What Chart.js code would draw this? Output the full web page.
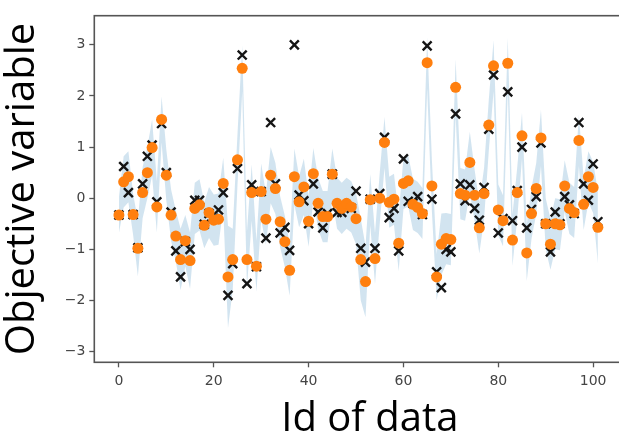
<!DOCTYPE html>
<html><head><meta charset="utf-8">
<script src="https://cdn.jsdelivr.net/npm/chart.js@4.4.1/dist/chart.umd.min.js"></script>
<style>
html,body{margin:0;padding:0;background:#fff;overflow:hidden}
#wrap{width:619px;height:440px;overflow:hidden;position:relative;background:#fff}
canvas{display:block}
</style></head>
<body><div id="wrap"><canvas id="c" width="654" height="440"></canvas></div>
<script>
// ---- data ----
const ids = [0,1,2,3,4,5,6,7,8,9,10,11,12,13,14,15,16,17,18,19,20,21,22,23,24,25,26,27,28,29,30,31,32,33,34,35,36,37,38,39,40,41,42,43,44,45,46,47,48,49,50,51,52,53,54,55,56,57,58,59,60,61,62,63,64,65,66,67,68,69,70,71,72,73,74,75,76,77,78,79,80,81,82,83,84,85,86,87,88,89,90,91,92,93,94,95,96,97,98,99,100,101];

const predicted = [-0.33,0.32,0.42,-0.32,-0.98,0.11,0.50,0.99,-0.17,1.54,
  0.45,-0.33,-0.74,-1.20,-0.83,-1.22,-0.20,-0.13,-0.53,-0.28,
  -0.43,-0.41,0.29,-1.54,-1.20,0.75,2.54,-1.20,0.11,-1.33,
  0.13,-0.41,0.45,0.19,-0.46,-0.85,-1.41,0.42,-0.07,0.22,
  -0.45,0.48,-0.10,-0.36,-0.36,0.47,-0.10,-0.20,-0.10,-0.17,
  -0.40,-1.20,-1.63,-0.03,-1.18,0.00,1.09,-0.08,-0.02,-0.88,
  0.29,0.34,-0.12,-0.18,-0.30,2.65,0.24,-1.54,-0.90,-0.79,
  -0.81,2.17,0.09,0.06,0.70,0.06,-0.58,0.09,1.43,2.59,
  -0.23,-0.44,2.64,-0.82,0.11,1.22,-1.07,-0.30,0.19,1.18,
  -0.50,-0.90,-0.50,-0.52,0.24,-0.20,-0.28,1.13,-0.12,0.42,
  0.21,-0.57];

const actual = [-0.33,0.62,0.11,-0.32,-0.97,0.28,0.82,1.04,-0.07,1.46,
  0.50,-0.27,-1.03,-1.54,-0.85,-1.00,-0.04,-0.04,-0.51,-0.30,
  -0.40,-0.23,0.11,-1.90,-1.28,0.58,2.80,-1.67,0.26,-1.34,
  0.13,-0.78,1.48,0.28,-0.68,-0.57,-1.02,3.00,0.06,-0.05,
  -0.50,0.28,-0.27,-0.58,-0.30,0.47,-0.28,-0.28,-0.15,-0.20,
  0.14,-0.98,-1.25,-0.02,-0.98,0.09,1.19,-0.38,-0.20,-1.03,
  0.77,-0.06,-0.10,0.03,-0.32,2.98,-0.02,-1.44,-1.75,-1.00,
  -1.05,1.65,0.28,-0.05,0.26,-0.20,-0.43,0.21,1.35,2.41,
  -0.68,-0.40,2.08,-0.44,0.15,1.00,-0.58,-0.22,0.03,1.08,
  -0.50,-1.05,-0.27,-0.50,0.03,-0.13,-0.30,1.48,0.28,-0.04,
  0.67,-0.46];

const bandHalfWidth = [0.35,0.50,0.50,0.40,0.55,0.50,0.50,0.55,0.50,0.45,
  0.50,0.50,0.50,0.60,0.50,0.55,0.50,0.50,0.45,0.50,
  0.50,0.50,0.50,1.00,0.60,0.50,0.45,0.55,0.55,0.50,
  0.55,0.50,0.55,0.50,0.50,0.50,0.50,0.55,0.50,0.55,
  0.50,0.50,0.50,0.50,0.50,0.50,0.50,0.50,0.50,0.50,
  0.50,0.80,0.70,0.50,0.50,0.50,0.50,0.50,0.50,0.55,
  0.50,0.50,0.50,0.50,0.50,0.50,0.50,0.45,0.60,0.50,
  0.50,0.55,0.50,0.50,0.60,0.50,0.50,0.50,0.50,0.50,
  0.50,0.50,0.50,0.50,0.50,0.45,0.55,0.50,0.50,0.55,
  0.50,0.50,0.50,0.50,0.50,0.50,0.50,0.50,0.50,0.50,
  0.50,0.70];

const xTickValues = [0,20,40,60,80,100];
const xTickLabels = ['0','20','40','60','80','100'];
const yTickValues = [-3,-2,-1,0,1,2,3];
const yTickLabels = ['\u22123','\u22122','\u22121','0','1','2','3'];
const xTitle = 'Id of data';
const yTitle = 'Objective variable';

// ---- build datasets ----
const predPts = ids.map((id,k)=>({x:id,y:predicted[k]}));
const actPts = ids.map((id,k)=>({x:id,y:actual[k]}));
const upperPts = ids.map((id,k)=>({x:id,y:predicted[k]+bandHalfWidth[k]}));
const lowerPts = ids.map((id,k)=>({x:id,y:predicted[k]-bandHalfWidth[k]}));

const framePlugin = {
  id:'frame',
  afterDatasetsDraw(chart){
    const {ctx, chartArea:a} = chart;
    ctx.save();
    ctx.strokeStyle='#555';
    ctx.lineWidth=1.6;
    ctx.strokeRect(a.left, a.top, a.right-a.left, a.bottom-a.top);
    ctx.restore();
  }
};

const tickFont = {family:'DejaVu Sans', size:14};
const titleFont = {family:'Open Sans', size:40, lineHeight:1};

new Chart(document.getElementById('c'), {
  type:'scatter',
  data:{datasets:[
    {label:'predicted', data:predPts, order:0, pointStyle:'circle', pointRadius:5.5,
     backgroundColor:'#ff7f0e', borderColor:'#ff7f0e', borderWidth:0, showLine:false},
    {label:'actual', data:actPts, order:1, pointStyle:'crossRot', pointRadius:6.3,
     borderColor:'#151515', backgroundColor:'#151515', borderWidth:2.4, showLine:false},
    {label:'upper', type:'line', data:upperPts, order:2, pointRadius:0, borderWidth:0,
     borderColor:'rgba(0,0,0,0)', backgroundColor:'rgba(31,119,180,0.2)', fill:'+1', tension:0},
    {label:'lower', type:'line', data:lowerPts, order:3, pointRadius:0, borderWidth:0,
     borderColor:'rgba(0,0,0,0)', backgroundColor:'rgba(31,119,180,0.2)', fill:false, tension:0}
  ]},
  options:{
    responsive:false, animation:false, devicePixelRatio:1,
    layout:{padding:{top:15.7,left:0,right:0,bottom:0}},
    plugins:{legend:{display:false}, tooltip:{enabled:false}},
    scales:{
      x:{type:'linear', min:-5.19, max:111.0,
        afterBuildTicks(s){ s.ticks = xTickValues.map(v=>({value:v})); },
        afterFit(s){ s.height = 77.7; },
        ticks:{font:tickFont, color:'#444', padding:6, maxRotation:0,
          callback:(v)=>xTickLabels[xTickValues.indexOf(v)]},
        grid:{drawOnChartArea:false, drawTicks:true, tickLength:5, tickColor:'#555', tickWidth:1.3},
        border:{display:false},
        title:{display:true, text:xTitle, color:'#000', font:titleFont, padding:{top:0,bottom:0}}
      },
      y:{type:'linear', min:-3.21, max:3.57,
        afterBuildTicks(s){ s.ticks = yTickValues.map(v=>({value:v})); },
        afterFit(s){ s.width = 94.3; },
        ticks:{font:tickFont, color:'#444', padding:4,
          callback:(v)=>yTickLabels[yTickValues.indexOf(v)]},
        grid:{drawOnChartArea:false, drawTicks:true, tickLength:5, tickColor:'#555', tickWidth:1.3},
        border:{display:false},
        title:{display:true, text:yTitle, color:'#000', font:titleFont, padding:{top:3,bottom:0}}
      }
    }
  },
  plugins:[framePlugin]
});
</script></body></html>
